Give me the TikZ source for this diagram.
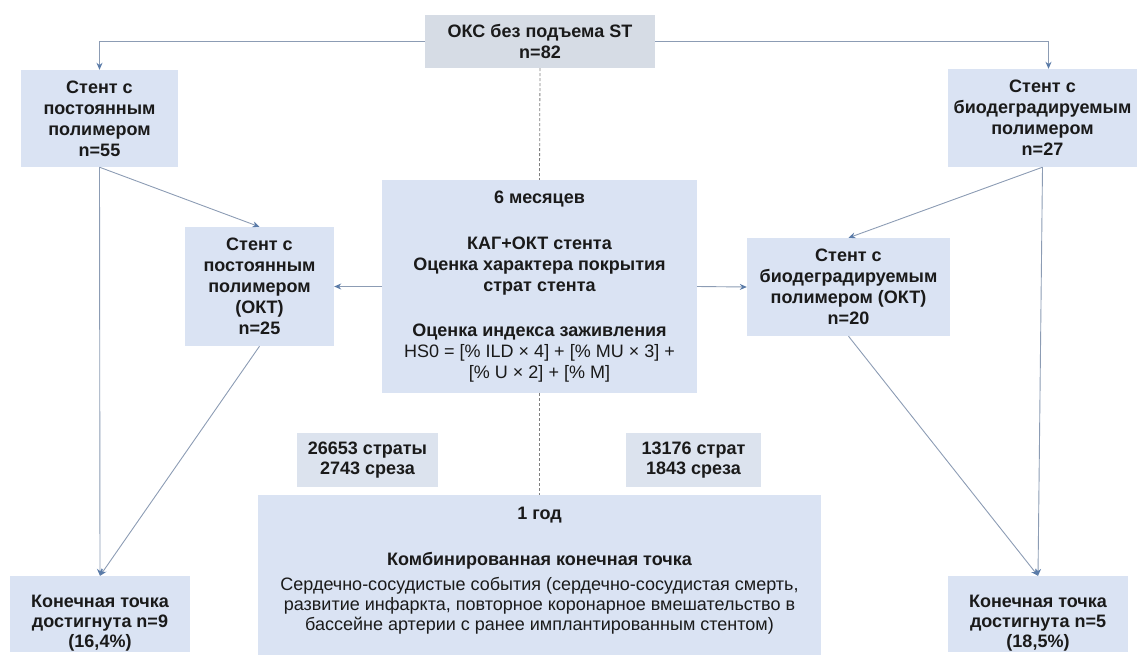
\documentclass[tikz,border=0pt]{standalone}
\usepackage{fontspec}
\setmainfont{Liberation Sans}
\usetikzlibrary{arrows.meta}
\definecolor{boxblue}{HTML}{DAE3F3}
\definecolor{boxgray}{HTML}{D6DCE5}
\definecolor{boxsmall}{HTML}{DCE3EE}
\definecolor{linecol}{HTML}{8C9CB4}
\definecolor{tipcol}{HTML}{5A7BA8}
\definecolor{dashcol}{HTML}{7F7F7F}
\definecolor{txt}{HTML}{1A1A1A}
\tikzset{
  box/.style={fill=boxblue, inner sep=0pt, align=center, text=txt,
    font=\bfseries\fontsize{18}{21}\selectfont},
  topbox/.style={box, fill=boxgray},
  smallbox/.style={box, fill=boxsmall, font=\bfseries\fontsize{18}{20}\selectfont},
  endbox/.style={box, font=\bfseries\fontsize{18}{20}\selectfont},
  bigbox/.style={box, font=\bfseries\fontsize{18}{19}\selectfont},
  conn/.style={draw=linecol, line width=0.9pt,
    -{Stealth[length=7pt, width=6pt, color=tipcol]}},
  dashconn/.style={draw=dashcol, line width=0.8pt, dash pattern=on 3pt off 2pt},
}
\begin{document}
\begin{tikzpicture}[x=1pt, y=-1pt]
\useasboundingbox (0,0) rectangle (1138,657);

\node[topbox, minimum width=230pt, minimum height=53pt] (T) at (540,41.5)
  {ОКС без подъема ST\\n=82};
\node[box, minimum width=157pt, minimum height=97pt] (A) at (99.5,118.5)
  {Стент с\\постоянным\\полимером\\n=55};
\node[box, minimum width=189pt, minimum height=98pt] (B) at (1042.5,118)
  {Стент с\\биодеградируемым\\полимером\\n=27};
\node[box, minimum width=315pt, minimum height=213pt] (C) at (539.5,286.5)
  {6 месяцев\\[25pt]КАГ+ОКТ стента\\Оценка характера покрытия\\страт стента\\[24pt]Оценка индекса заживления\\{\mdseries HS0 = [\% ILD × 4] + [\% MU × 3] +}\\{\mdseries [\% U × 2] + [\% M]}};
\node[box, minimum width=149pt, minimum height=119pt] (D) at (259.5,286.5)
  {Стент с\\постоянным\\полимером\\(ОКТ)\\n=25};
\node[box, minimum width=203pt, minimum height=98pt] (E) at (848.5,287)
  {Стент с\\биодеградируемым\\полимером (ОКТ)\\n=20};
\node[smallbox, minimum width=141pt, minimum height=54pt] (F) at (367.5,460)
  {26653 страты\\2743 среза};
\node[smallbox, minimum width=135pt, minimum height=54pt] (G) at (693.5,460)
  {13176 страт\\1843 среза};
\node[bigbox, minimum width=563pt, minimum height=160pt] (H) at (539.5,575)
  {1 год\\[27pt]Комбинированная конечная точка\\[6pt]{\mdseries Сердечно-сосудистые события (сердечно-сосудистая смерть,}\\[1pt]{\mdseries развитие инфаркта, повторное коронарное вмешательство в}\\[1pt]{\mdseries бассейне артерии с ранее имплантированным стентом)}\\[-6pt]\mbox{}};
\node[endbox, minimum width=180pt, minimum height=76pt] (I) at (100,614)
  {\rule{0pt}{31pt}Конечная точка\\достигнута n=9\\(16,4\%)};
\node[endbox, minimum width=180pt, minimum height=76pt] (J) at (1038,614)
  {\rule{0pt}{31pt}Конечная точка\\достигнута n=5\\(18,5\%)};

\draw[conn] (T.west) -| (A.north);
\draw[conn] (T.east) -| ([xshift=6pt]B.north);
\draw[dashconn] (T.south) -- (C.north);
\draw[dashconn] (C.south) -- (H.north);
\draw[conn] (A.south) -- (D.north);
\draw[conn] (B.south) -- (E.north);
\draw[conn] (A.south) -- (I.north);
\draw[conn] (B.south) -- (J.north);
\draw[conn] (C.west) -- (D.east);
\draw[conn] (C.east) -- (E.west);
\draw[conn] (D.south) -- (I.north);
\draw[conn] (E.south) -- (J.north);
\end{tikzpicture}
\end{document}
